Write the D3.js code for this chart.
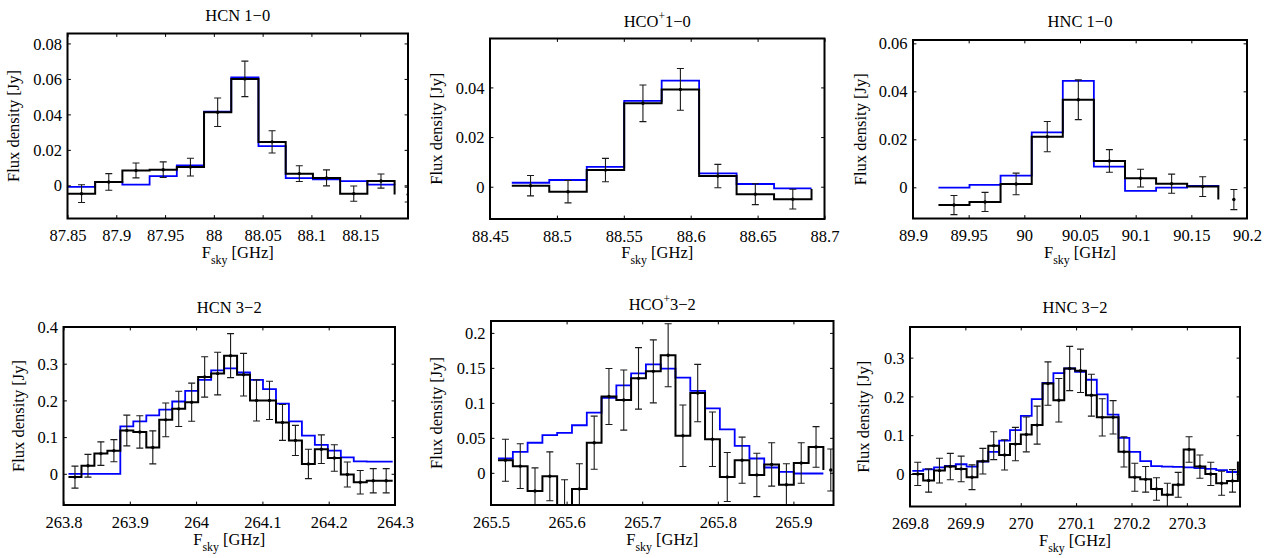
<!DOCTYPE html>
<html>
<head>
<meta charset="utf-8">
<script src="https://cdn.jsdelivr.net/npm/d3@7"></script>
<style>
  body { margin: 0; background: #fff; }
  svg { display: block; }
  svg text { font-family: "Liberation Serif", "Times New Roman", Times, serif !important; fill: #000; }
</style>
</head>
<body>
<svg id="fig" width="1277" height="558"></svg>
<script>
// ---- HCN 1-0 ----
const hcn10Freq  = [87.8644, 87.8923, 87.9202, 87.9481, 87.9760, 88.0039, 88.0318, 88.0597, 88.0876, 88.1155, 88.1434, 88.1713, 88.1992];
const hcn10Obs   = [-0.0047, 0.0019, 0.0084, 0.0088, 0.0103, 0.0412, 0.0600, 0.0245, 0.0066, 0.0042, -0.0047, 0.0024, -0.0052];
const hcn10Err   = [0.0050, 0.0047, 0.0042, 0.0044, 0.0050, 0.0080, 0.0100, 0.0063, 0.0044, 0.0045, 0.0043, 0.0040, 0.0042];
const hcn10Model = [-0.0009, 0.0019, 0.0004, 0.0052, 0.0112, 0.0416, 0.0609, 0.0221, 0.0041, 0.0034, 0.0024, 0.0004, 0.0003];
const hcn10XTicks = [87.85, 87.9, 87.95, 88, 88.05, 88.1, 88.15];
const hcn10YTicks = [0, 0.02, 0.04, 0.06, 0.08];

// ---- HCO+ 1-0 ----
const hco10Freq  = [88.4803, 88.5083, 88.5363, 88.5643, 88.5923, 88.6203, 88.6483, 88.6763, 88.7043];
const hco10Obs   = [0.0004, -0.0020, 0.0067, 0.0336, 0.0392, 0.0043, -0.0030, -0.0050, -0.0009];
const hco10Err   = [0.0041, 0.0045, 0.0047, 0.0074, 0.0084, 0.0047, 0.0042, 0.0040, 0.0040];
const hco10Model = [0.0016, 0.0027, 0.0080, 0.0346, 0.0427, 0.0054, 0.0011, -0.0007, -0.0007];
const hco10XTicks = [88.45, 88.5, 88.55, 88.6, 88.65, 88.7];
const hco10YTicks = [0, 0.02, 0.04];

// ---- HNC 1-0 ----
const hnc10Freq  = [89.9368, 89.9647, 89.9926, 90.0206, 90.0485, 90.0764, 90.1044, 90.1323, 90.1602, 90.1882];
const hnc10Obs   = [-0.0074, -0.0061, 0.0014, 0.0211, 0.0365, 0.0110, 0.0038, 0.0015, 0.0003, -0.0051];
const hnc10Err   = [0.0040, 0.0040, 0.0045, 0.0063, 0.0083, 0.0047, 0.0037, 0.0040, 0.0041, 0.0042];
const hnc10Model = [-0.0001, 0.0010, 0.0049, 0.0229, 0.0444, 0.0086, -0.0015, -0.0001, 0.0006, 0.0010];
const hnc10XTicks = [89.9, 89.95, 90, 90.05, 90.1, 90.15, 90.2];
const hnc10YTicks = [0, 0.02, 0.04, 0.06];

// ---- HCN 3-2 ----
const hcn32Freq  = [263.8173, 263.8369, 263.8564, 263.8760, 263.8955, 263.9151, 263.9347, 263.9542, 263.9738, 263.9933,
                    264.0129, 264.0325, 264.0520, 264.0716, 264.0911, 264.1107, 264.1303, 264.1498, 264.1694, 264.1889,
                    264.2085, 264.2281, 264.2476, 264.2672, 264.2867, 264.3063];
const hcn32Obs   = [-0.009, 0.022, 0.055, 0.063, 0.118, 0.114, 0.072, 0.147, 0.177, 0.195,
                    0.264, 0.273, 0.322, 0.270, 0.200, 0.200, 0.140, 0.091, 0.027, 0.067,
                    0.043, -0.002, -0.023, -0.019, -0.019, -0.019];
const hcn32Err   = [0.030, 0.031, 0.032, 0.030, 0.042, 0.044, 0.045, 0.046, 0.048, 0.052,
                    0.055, 0.058, 0.060, 0.058, 0.056, 0.052, 0.049, 0.041, 0.040, 0.039,
                    0.036, 0.034, 0.032, 0.033, 0.033, 0.033];
const hcn32Model = [0, 0, 0, 0, 0.129, 0.143, 0.159, 0.175, 0.197, 0.226,
                    0.256, 0.282, 0.287, 0.276, 0.256, 0.231, 0.191, 0.143, 0.104, 0.079,
                    0.063, 0.045, 0.034, 0.033, 0.033, 0.033];
const hcn32XTicks = [263.8, 263.9, 264, 264.1, 264.2, 264.3];
const hcn32YTicks = [0, 0.1, 0.2, 0.3, 0.4];

// ---- HCO+ 3-2 ----
const hco32Freq  = [265.5191, 265.5387, 265.5582, 265.5778, 265.5973, 265.6169, 265.6365, 265.6560, 265.6756, 265.6951,
                    265.7147, 265.7343, 265.7538, 265.7734, 265.7929, 265.8125, 265.8321, 265.8516, 265.8712, 265.8907,
                    265.9103, 265.9299, 265.9494];
const hco32Obs   = [0.018, 0.0095, -0.026, -0.005, -0.048, -0.023, 0.043, 0.109, 0.104, 0.135,
                    0.145, 0.168, 0.053, 0.114, 0.048, -0.006, 0.018, -0.003, 0.012, -0.017,
                    0.014, 0.037, 0.004];
const hco32Err   = [0.030, 0.032, 0.033, 0.035, 0.038, 0.036, 0.038, 0.040, 0.043, 0.044,
                    0.045, 0.045, 0.044, 0.041, 0.039, 0.035, 0.033, 0.031, 0.031, 0.030,
                    0.029, 0.029, 0.030];
const hco32Model = [0.0205, 0.030, 0.043, 0.054, 0.057, 0.068, 0.086, 0.107, 0.125, 0.142,
                    0.155, 0.149, 0.136, 0.117, 0.092, 0.062, 0.0386, 0.0205, 0.0076, 0.0014,
                    -0.001, -0.001, -0.001];
const hco32XTicks = [265.5, 265.6, 265.7, 265.8, 265.9];
const hco32YTicks = [0, 0.05, 0.1, 0.15, 0.2];

// ---- HNC 3-2 ----
const hnc32Freq  = [269.8140, 269.8336, 269.8532, 269.8728, 269.8924, 269.9120, 269.9316, 269.9512, 269.9708, 269.9904,
                    270.0100, 270.0296, 270.0492, 270.0688, 270.0884, 270.1080, 270.1276, 270.1472, 270.1668, 270.1864,
                    270.2060, 270.2256, 270.2452, 270.2648, 270.2844, 270.3040, 270.3236, 270.3432, 270.3628, 270.3824,
                    270.4020];
const hnc32Obs   = [0.000, -0.017, 0.0086, 0.019, 0.013, -0.0086, 0.033, 0.073, 0.049, 0.077,
                    0.102, 0.126, 0.233, 0.190, 0.272, 0.266, 0.203, 0.146, 0.146, 0.057,
                    -0.0086, -0.014, -0.039, -0.054, -0.028, 0.063, 0.019, 0.000, -0.024, -0.018,
                    0.032];
const hnc32Err   = [0.030, 0.030, 0.032, 0.034, 0.033, 0.032, 0.033, 0.036, 0.039, 0.043,
                    0.045, 0.049, 0.056, 0.056, 0.057, 0.056, 0.054, 0.048, 0.043, 0.039,
                    0.036, 0.033, 0.029, 0.030, 0.032, 0.033, 0.030, 0.030, 0.031, 0.029,
                    0.030];
const hnc32Model = [0.008, 0.012, 0.017, 0.021, 0.025, 0.019, 0.032, 0.057, 0.086, 0.113,
                    0.150, 0.193, 0.235, 0.260, 0.272, 0.263, 0.243, 0.205, 0.153, 0.093,
                    0.057, 0.033, 0.020, 0.019, 0.018, 0.017, 0.015, 0.013, 0.010, 0.005,
                    0.003];
const hnc32XTicks = [269.8, 269.9, 270, 270.1, 270.2, 270.3];
const hnc32YTicks = [0, 0.1, 0.2, 0.3];

// layout of the six axes (pixels) and their limits
const panels = [
  { title: ['HCN 1\u22120'], freq: hcn10Freq, obs: hcn10Obs, err: hcn10Err, model: hcn10Model,
    xt: hcn10XTicks, yt: hcn10YTicks, xlim: [87.85, 88.199], ylim: [-0.0187, 0.0856],
    box: { l: 67.5, r: 408, t: 33.5, b: 218.5 }, titleY: 21, tickY: 22.5, xlabY: 258, ylabX: 15 },
  { title: ['HCO', '+', '1\u22120'], freq: hco10Freq, obs: hco10Obs, err: hco10Err, model: hco10Model,
    xt: hco10XTicks, yt: hco10YTicks, xlim: [88.45, 88.70], ylim: [-0.013, 0.0597],
    box: { l: 490, r: 824.5, t: 38.5, b: 219 }, titleY: 26.5, tickY: 22.5, xlabY: 258, ylabX: 438 },
  { title: ['HNC 1\u22120'], freq: hnc10Freq, obs: hnc10Obs, err: hnc10Err, model: hnc10Model,
    xt: hnc10XTicks, yt: hnc10YTicks, xlim: [89.9, 90.2], ylim: [-0.013, 0.0614],
    box: { l: 913, r: 1247, t: 40, b: 218.5 }, titleY: 26.5, tickY: 22.5, xlabY: 258, ylabX: 862 },
  { title: ['HCN 3\u22122'], freq: hcn32Freq, obs: hcn32Obs, err: hcn32Err, model: hcn32Model,
    xt: hcn32XTicks, yt: hcn32YTicks, xlim: [263.8, 264.3], ylim: [-0.085, 0.4],
    box: { l: 63.5, r: 395, t: 327, b: 505 }, titleY: 313, tickY: 22.5, xlabY: 545, ylabX: 20 },
  { title: ['HCO', '+', '3\u22122'], freq: hco32Freq, obs: hco32Obs, err: hco32Err, model: hco32Model,
    xt: hco32XTicks, yt: hco32YTicks, xlim: [265.5, 265.953], ylim: [-0.046, 0.217],
    box: { l: 491, r: 833.5, t: 321, b: 505 }, titleY: 310, tickY: 22.5, xlabY: 545, ylabX: 438 },
  { title: ['HNC 3\u22122'], freq: hnc32Freq, obs: hnc32Obs, err: hnc32Err, model: hnc32Model,
    xt: hnc32XTicks, yt: hnc32YTicks, xlim: [269.8, 270.396], ylim: [-0.084, 0.379],
    box: { l: 910, r: 1240, t: 327, b: 506.5 }, titleY: 313, tickY: 22, xlabY: 545.5, ylabX: 865 }
];

const FONT = '"Liberation Serif", "Times New Roman", Times, serif';
const FS = 16.5;
const tickLen = 3.4;
const fmt = d => String(+d.toFixed(4));

const svg = d3.select('#fig');
svg.append('rect').attr('width', 1277).attr('height', 558).attr('fill', '#fff');

panels.forEach((p, i) => {
  const { l, r, t, b } = p.box;
  const x = d3.scaleLinear().domain(p.xlim).range([l, r]);
  const y = d3.scaleLinear().domain(p.ylim).range([b, t]);
  const g = svg.append('g').style('font-family', FONT);

  // clip to the axes box
  const clipId = 'clip' + i;
  svg.append('clipPath').attr('id', clipId)
    .append('rect').attr('x', l).attr('y', t).attr('width', r - l).attr('height', b - t);
  const plot = g.append('g').attr('clip-path', `url(#${clipId})`);

  const half = (p.freq[1] - p.freq[0]) / 2;
  const stairs = vals => d3.line()
    .x((d, k) => x(p.freq[k] - half))
    .y(d => y(d))
    .curve(d3.curveStepAfter)(vals);

  // model (blue)
  plot.append('path').attr('d', stairs(p.model))
    .attr('fill', 'none').attr('stroke', '#0000ff').attr('stroke-width', 1.8);

  // observed (black)
  plot.append('path').attr('d', stairs(p.obs))
    .attr('fill', 'none').attr('stroke', '#000').attr('stroke-width', 2);

  // error bars
  const eb = plot.append('g').attr('stroke', '#1a1a1a').attr('stroke-width', 1.1);
  p.obs.forEach((v, k) => {
    const cx = x(p.freq[k]);
    const y0 = y(v - p.err[k]), y1 = y(v + p.err[k]);
    eb.append('line').attr('x1', cx).attr('x2', cx).attr('y1', y0).attr('y2', y1);
    eb.append('line').attr('x1', cx - 3.5).attr('x2', cx + 3.5).attr('y1', y0).attr('y2', y0);
    eb.append('line').attr('x1', cx - 3.5).attr('x2', cx + 3.5).attr('y1', y1).attr('y2', y1);
    plot.append('circle').attr('cx', cx).attr('cy', y(v)).attr('r', 1.7).attr('fill', '#000');
  });

  // axes: inward ticks on all four sides
  const styleAxis = sel => {
    sel.attr('font-family', null).attr('font-size', null);
    sel.select('.domain').remove();
    sel.selectAll('.tick line').attr('stroke', '#000').attr('stroke-width', 1);
    sel.selectAll('text').style('font-family', FONT).style('font-size', FS + 'px').attr('fill', '#000');
  };
  g.append('g').attr('transform', `translate(0,${b})`)
    .call(d3.axisBottom(x).tickValues(p.xt).tickSize(-tickLen).tickFormat(fmt))
    .call(styleAxis)
    .call(s => s.selectAll('text').attr('dy', null).attr('y', p.tickY));
  g.append('g').attr('transform', `translate(0,${t})`)
    .call(d3.axisTop(x).tickValues(p.xt).tickSize(-tickLen).tickFormat(''))
    .call(styleAxis);
  g.append('g').attr('transform', `translate(${l},0)`)
    .call(d3.axisLeft(y).tickValues(p.yt).tickSize(-tickLen).tickPadding(5.5).tickFormat(fmt))
    .call(styleAxis)
    .call(s => s.selectAll('text').attr('dy', '0.34em'));
  g.append('g').attr('transform', `translate(${r},0)`)
    .call(d3.axisRight(y).tickValues(p.yt).tickSize(-tickLen).tickFormat(''))
    .call(styleAxis);

  // box
  g.append('rect').attr('x', l).attr('y', t).attr('width', r - l).attr('height', b - t)
    .attr('fill', 'none').attr('stroke', '#000').attr('stroke-width', 2);

  // title
  const title = g.append('text').attr('x', (l + r) / 2).attr('y', p.titleY)
    .attr('text-anchor', 'middle').style('font-size', FS + 'px');
  if (p.title.length === 1) {
    title.text(p.title[0]);
  } else {
    title.append('tspan').text(p.title[0]);
    title.append('tspan').style('font-size', (FS * 0.7) + 'px').attr('dy', -7).text(p.title[1]);
    title.append('tspan').attr('dy', 7).text(p.title[2]);
  }

  // x label: F_sky [GHz]
  const xl = g.append('text').attr('x', (l + r) / 2).attr('y', p.xlabY)
    .attr('text-anchor', 'middle').style('font-size', FS + 'px');
  xl.append('tspan').text('F');
  xl.append('tspan').style('font-size', (FS * 0.72) + 'px').attr('dy', 6).text('sky');
  xl.append('tspan').attr('dy', -6).text(' [GHz]');

  // y label
  g.append('text')
    .attr('transform', `translate(${p.ylabX + 4},${(t + b) / 2}) rotate(-90)`)
    .attr('text-anchor', 'middle').style('font-size', FS + 'px')
    .text('Flux density [Jy]');
});
</script>
</body>
</html>
